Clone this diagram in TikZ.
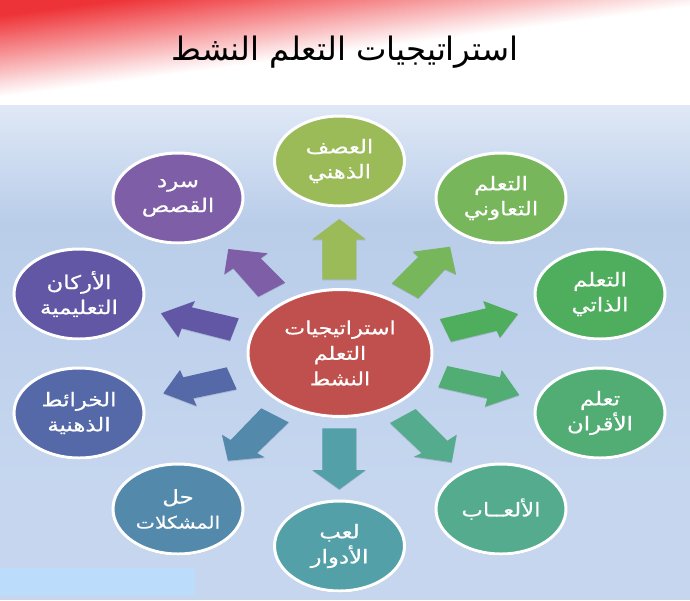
\documentclass[tikz,border=0pt]{standalone}
\usepackage{fontspec}
\usetikzlibrary{shapes.geometric,shadows}
\TeXXeTstate=1
\newfontfamily\arabicfont[Script=Arabic]{DejaVu Sans}
\newfontfamily\arabicwide[Script=Arabic,FakeStretch=1.2,FakeBold=0.5]{DejaVu Sans}
\newcommand{\rl}[1]{\beginR #1\endR}
\definecolor{redtop}{HTML}{EE3338}
\definecolor{bgA}{HTML}{DFE8F6}
\definecolor{bgB}{HTML}{B9CDE9}
\definecolor{bgC}{HTML}{C6D6EF}
\definecolor{patch}{HTML}{BCDCFC}
\definecolor{cBrain}{HTML}{9BBB59}
\definecolor{cCoop}{HTML}{78B65C}
\definecolor{cSelf}{HTML}{4FAE5E}
\definecolor{cPeer}{HTML}{52AD74}
\definecolor{cGame}{HTML}{55AB8E}
\definecolor{cRole}{HTML}{54A0A8}
\definecolor{cProb}{HTML}{5389AB}
\definecolor{cMind}{HTML}{5569A8}
\definecolor{cPill}{HTML}{6257A5}
\definecolor{cStory}{HTML}{7E5EA6}
\definecolor{cMain}{HTML}{C0504D}
\tikzset{
  bubble/.style={ellipse,draw=white,line width=3pt,inner sep=0pt,
    minimum width=130pt,minimum height=90pt,text=white,align=center,
    font=\arabicwide\fontsize{19}{25}\selectfont,
    general shadow={shadow xshift=0pt,shadow yshift=-1.5pt,fill=black,opacity=.25}},
  hub/.style={bubble,minimum width=184pt,minimum height=127pt,
    font=\arabicwide\fontsize{18.5}{25.5}\selectfont},
  blockarrow/.style={general shadow={shadow xshift=0pt,shadow yshift=-1pt,fill=black,opacity=.12}}
}
\begin{document}
\begin{tikzpicture}[x=1pt,y=-1pt]
\useasboundingbox (0,0) rectangle (690,600);
\fill[white] (0,0) rectangle (690,600);
% header gradient
\begin{scope}
\clip (0,0) rectangle (690,106);
\foreach \t in {0,2,...,110}{
  \pgfmathsetmacro{\p}{min(100,max(0,(\t-15)/80*100))}
  \pgfmathsetmacro{\ya}{\t/0.99}
  \pgfmathsetmacro{\yb}{(\t-0.13*690)/0.99}
  \colorlet{bandc}{white!\p!redtop}
  \fill[bandc] (0,\ya) -- (690,\yb) -- (690,110) -- (0,110) -- cycle;
}
\end{scope}
% body background
\shade[top color=bgA,bottom color=bgB] (0,105) rectangle (690,222);
\shade[top color=bgB,bottom color=bgC] (0,221.5) rectangle (690,480);
\fill[bgC] (0,479.5) rectangle (690,600);
\fill[patch] (0,568) rectangle (195,595);
% title
\node[font=\arabicfont\fontsize{32.3}{40}\selectfont,text=black] (title) at (345,52) {\rl{استراتيجيات التعلم النشط}};
% block arrows
\fill[blockarrow,cBrain] (339.3,219) -- (365.7,239.3) -- (356.3,239.3) -- (356.3,279.3) -- (322.3,279.3) -- (322.3,239.3) -- (312.3,239.3) -- cycle;
\fill[blockarrow,cCoop] (450,246.7) -- (456,274.3) -- (445,269.3) -- (418.3,298.3) -- (391.7,283.3) -- (418.3,256.7) -- (412.7,251.7) -- cycle;
\fill[blockarrow,cSelf] (518,314) -- (500,337.7) -- (496.7,330.7) -- (451,341.7) -- (440,319) -- (486,308.3) -- (483.3,301) -- cycle;
\fill[blockarrow,cPeer] (519.3,395) -- (485,406.7) -- (487.3,398.3) -- (438.3,387.3) -- (447.3,366) -- (500,377.3) -- (501.7,370) -- cycle;
\fill[blockarrow,cGame] (451.7,462.3) -- (414,456.7) -- (421.7,453) -- (390,423) -- (415.7,409) -- (447.3,440.7) -- (456.7,434.7) -- cycle;
\fill[blockarrow,cRole] (339.3,489.3) -- (312.3,470) -- (322.3,470) -- (322.3,428.3) -- (356.3,428.3) -- (356.3,470) -- (365.7,470) -- cycle;
\fill[blockarrow,cProb] (228,460.7) -- (222,434.7) -- (230.7,440) -- (261.3,408.3) -- (288.7,422.3) -- (257,453) -- (264.7,457.3) -- cycle;
\fill[blockarrow,cMind] (163.3,393.3) -- (180,370) -- (183.3,377.3) -- (226.7,367.3) -- (236.7,389.3) -- (193.3,398.3) -- (196.7,406) -- cycle;
\fill[blockarrow,cPill] (161,313.3) -- (195,301) -- (191.7,307.3) -- (238.7,318.3) -- (230,340.7) -- (181.7,328.3) -- (178.3,337.3) -- cycle;
\fill[blockarrow,cStory] (228.3,249) -- (267.7,253.3) -- (260.7,258.3) -- (285,282.7) -- (258.3,296.7) -- (233.3,268.3) -- (224.3,274.3) -- cycle;
% bubbles
\node[hub,fill=cMain] (main) at (340,353) {\rl{استراتيجيات}\\\rl{التعلم}\\\rl{النشط}};
\node[bubble,fill=cBrain] (brain) at (339.5,161) {\rl{العصف}\\\rl{الذهني}};
\node[bubble,fill=cCoop] (coop) at (501,198) {\rl{التعلم}\\\rl{التعاوني}};
\node[bubble,fill=cSelf] (self) at (600,294) {\rl{التعلم}\\\rl{الذاتي}};
\node[bubble,fill=cPeer] (peer) at (600,413) {\rl{تعلم}\\\rl{الأقران}};
\node[bubble,fill=cGame] (game) at (501,509) {\rl{الألعــاب}};
\node[bubble,fill=cRole] (role) at (339.5,546) {\rl{لعب}\\\rl{الأدوار}};
\node[bubble,fill=cProb] (prob) at (178,509) {\rl{حل}\\{\fontsize{17}{25}\selectfont\rl{المشكلات}}};
\node[bubble,fill=cMind] (mind) at (79,413) {\rl{الخرائط}\\\rl{الذهنية}};
\node[bubble,fill=cPill] (pill) at (79,294) {\rl{الأركان}\\\rl{التعليمية}};
\node[bubble,fill=cStory] (story) at (178,198) {\rl{سرد}\\\rl{القصص}};
\end{tikzpicture}
\end{document}
